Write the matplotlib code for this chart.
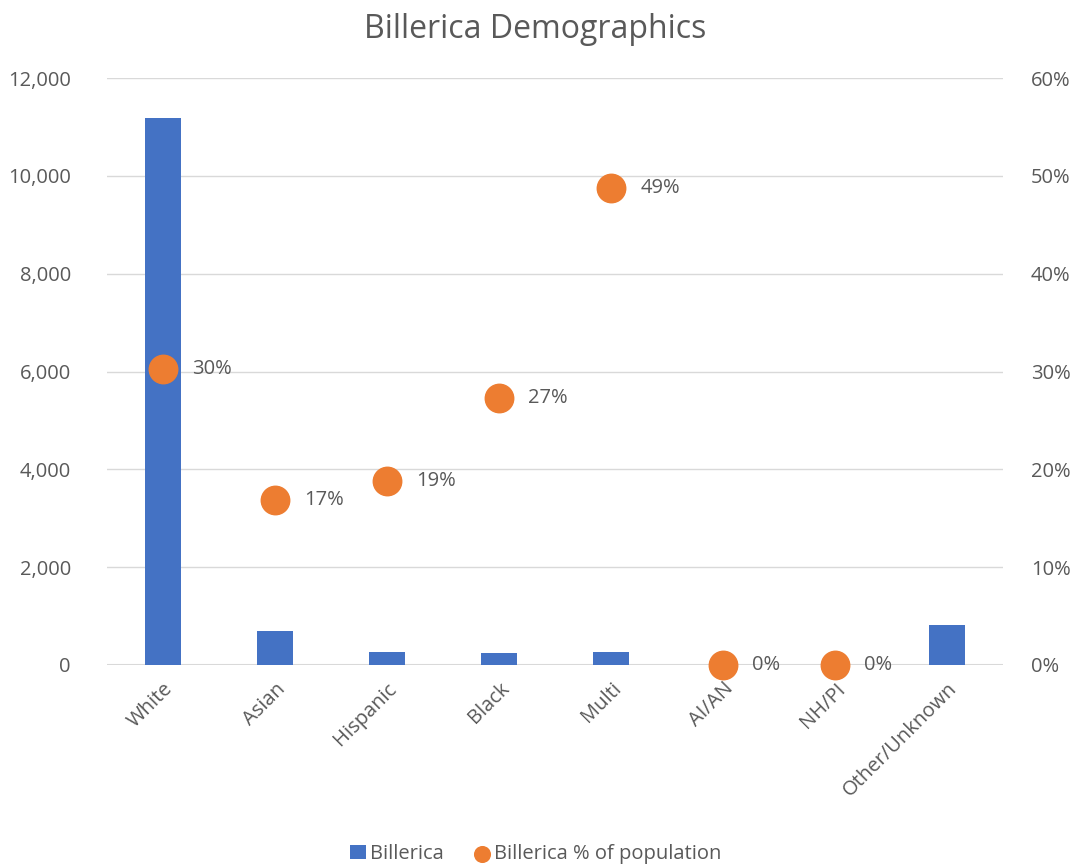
import matplotlib
matplotlib.use("Agg")
import matplotlib.pyplot as plt
from matplotlib.ticker import FuncFormatter, MultipleLocator
import numpy as np

categories = ["White", "Asian", "Hispanic", "Black", "Multi", "AI/AN", "NH/PI", "Other/Unknown"]
counts = [11190, 690, 266, 250, 266, 0, 0, 820]
pct = [30.3, 16.9, 18.8, 27.3, 48.8, 0.0, 0.0, None]
pct_labels = ["30%", "17%", "19%", "27%", "49%", "0%", "0%", None]

plt.rcParams['font.family'] = ['Open Sans', 'DejaVu Sans']
txt = '#595959'
blue = '#4472C4'
orange = '#ED7D31'
fs = 14.5

fig = plt.figure(figsize=(10.71, 8.67), dpi=100)
ax = fig.add_axes([0.0999, 0.233, 0.8366, 0.677])
x = np.arange(len(categories))
ax.bar(x, counts, width=0.32, color=blue, zorder=3, label='Billerica')
ax.set_xlim(-0.5, len(categories) - 0.5)
ax.set_ylim(0, 12000)
ax.yaxis.set_major_locator(MultipleLocator(2000))
ax.yaxis.set_major_formatter(FuncFormatter(lambda v, p: f"{int(v):,}"))
ax.grid(axis='y', color='#D9D9D9', linewidth=1, zorder=0)
for s in ax.spines.values():
    s.set_visible(False)
ax.tick_params(axis='both', length=0, colors=txt, labelsize=fs)
ax.tick_params(axis='y', pad=26)
ax.set_xticks(x)
ax.set_xticklabels(categories, rotation=45, ha='right', rotation_mode='anchor', color=txt)
ax.tick_params(axis='x', pad=10)
ax.axhline(0, color='#D9D9D9', linewidth=1.5, zorder=2)

ax2 = ax.twinx()
ax2.set_ylim(0, 60)
ax2.yaxis.set_major_locator(MultipleLocator(10))
ax2.yaxis.set_major_formatter(FuncFormatter(lambda v, p: f"{int(v)}%"))
for s in ax2.spines.values():
    s.set_visible(False)
ax2.tick_params(axis='y', length=0, colors=txt, labelsize=fs, pad=20)
px = [i for i, p in enumerate(pct) if p is not None]
py = [p for p in pct if p is not None]
ax2.scatter(px, py, s=420, color=orange, zorder=5, label='Billerica % of population', clip_on=False)
for i, p in enumerate(pct):
    if p is None:
        continue
    ax2.annotate(pct_labels[i], (i, p), xytext=(21, 0), textcoords='offset points',
                 va='center', ha='left', fontsize=fs, color=txt)

fig.suptitle("Billerica Demographics", y=0.985, fontsize=23, color=txt)

h1, l1 = ax.get_legend_handles_labels()
h2, l2 = ax2.get_legend_handles_labels()
fig.legend(h1 + h2, l1 + l2, loc='lower center', bbox_to_anchor=(0.5, -0.018), ncol=2,
           frameon=False, fontsize=fs, labelcolor=txt, handlelength=0.8,
           handletextpad=0.2, columnspacing=1.5, markerscale=0.55)

fig.savefig("out.png", dpi=100)
